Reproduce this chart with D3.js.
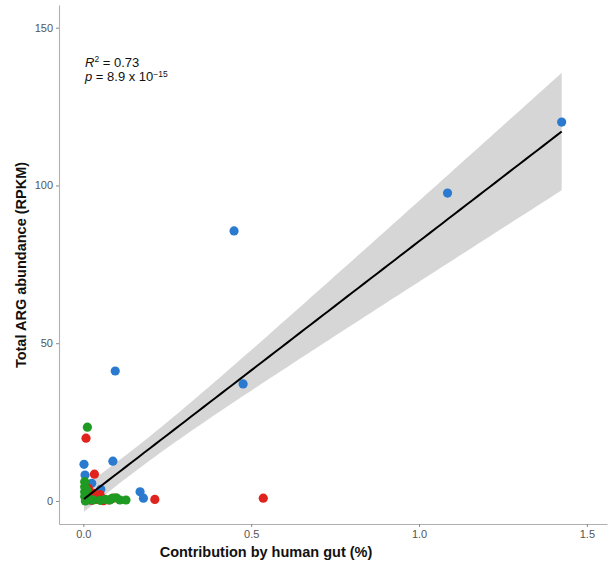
<!DOCTYPE html>
<html>
<head>
<meta charset="utf-8">
<script src="https://cdn.jsdelivr.net/npm/d3@7"></script>
<style>
  html, body { margin: 0; padding: 0; background: #fff; }
  svg { display: block; font-family: "Liberation Sans", Arial, sans-serif; }
</style>
</head>
<body>
<svg id="chart" width="609" height="564"></svg>
<script>
// Sample groups: x = contribution by human gut (%), y = total ARG abundance (RPKM)
const blueX = [1.425, 1.085, 0.449, 0.476, 0.095, 0.088, 0.002, 0.005, 0.025, 0.052, 0.018, 0.169, 0.179, 0.010, 0.030, 0.015, 0.040];
const blueY = [120.1, 97.6, 85.6, 37.1, 41.2, 12.6, 11.6, 8.2, 5.6, 3.7, 0.3, 2.9, 0.9, 1.0, 2.0, 0.8, 1.5];
const redX  = [0.008, 0.033, 0.030, 0.040, 0.060, 0.089, 0.213, 0.536, 0.020, 0.075, 0.015, 0.045, 0.025, 0.050, 0.010];
const redY  = [19.9, 8.5, 2.4, 0.5, 0.1, 0.9, 0.5, 0.9, 1.5, 0.3, 4.0, 1.0, 0.2, 2.0, 0.5];
const greenX = [0.012, 0.004, 0.004, 0.004, 0.004, 0.006, 0.079, 0.109, 0.127, 0.098, 0.010, 0.020, 0.085, 0.030, 0.050, 0.008, 0.065];
const greenY = [23.4, 6.1, 4.5, 2.9, 1.4, 0.0, 0.3, 0.3, 0.3, 1.0, 3.5, 0.5, 0.8, 0.3, 0.2, 2.0, 0.5];

const groupNames  = ["blue", "red", "green"];
const groupColors = ["#2a7ad0", "#e0231c", "#1f9a22"];

const xTicks = [0, 0.5, 1.0, 1.5];
const yTicks = [0, 50, 100, 150];
const statR2 = "0.73";
const statP = { mant: "8.9", exp: "\u221215" };

const xTitle = "Contribution by human gut (%)";
const yTitle = "Total ARG abundance (RPKM)";

const svg = d3.select("#chart");

const x = d3.scaleLinear().domain([-0.0725, 1.56]).range([59, 607]);
const y = d3.scaleLinear().domain([-7.3, 157.2]).range([524, 5]);

const groups = [[blueX, blueY], [redX, redY], [greenX, greenY]].map((g, i) => ({
  name: groupNames[i], color: groupColors[i],
  pts: g[0].map((v, j) => ({ x: v, y: g[1][j] }))
}));
const all = groups.flatMap(g => g.pts);

// ordinary least squares fit with 95% confidence band
const n = all.length;
const mx = d3.mean(all, d => d.x), my = d3.mean(all, d => d.y);
const sxx = d3.sum(all, d => (d.x - mx) ** 2);
const sxy = d3.sum(all, d => (d.x - mx) * (d.y - my));
const slope = sxy / sxx, icpt = my - slope * mx;
const sse = d3.sum(all, d => (d.y - icpt - slope * d.x) ** 2);
const s = Math.sqrt(sse / (n - 2));
const df = n - 2, z = 1.959964;
const tq = z + (z ** 3 + z) / (4 * df) + (5 * z ** 5 + 16 * z ** 3 + 3 * z) / (96 * df * df);
const [xmin, xmax] = d3.extent(all, d => d.x);
const fit = d3.range(0, 81).map(i => {
  const xv = xmin + (xmax - xmin) * i / 80;
  const yv = icpt + slope * xv;
  const se = s * Math.sqrt(1 / n + (xv - mx) ** 2 / sxx);
  return { x: xv, y: yv, lo: yv - tq * se, hi: yv + tq * se };
});

svg.append("path").datum(fit)
  .attr("fill", "#d6d6d6")
  .attr("d", d3.area().x(d => x(d.x)).y0(d => y(d.lo)).y1(d => y(d.hi)));

// axes
const axisColor = "#b0b0b0";
const gx = svg.append("g").attr("transform", "translate(0,524)")
  .call(d3.axisBottom(x).tickValues(xTicks).tickFormat(d3.format(".1f")).tickSizeInner(3).tickSizeOuter(0).tickPadding(3));
const gy = svg.append("g").attr("transform", "translate(59,0)")
  .call(d3.axisLeft(y).tickValues(yTicks).tickFormat(d3.format("d")).tickSizeInner(3).tickSizeOuter(0).tickPadding(3));
[gx, gy].forEach(g => {
  g.select(".domain").attr("stroke", axisColor).attr("stroke-width", 1.1);
  g.selectAll(".tick line").attr("stroke", "#888");
  g.selectAll(".tick text").attr("fill", "#555").attr("font-size", 11)
    .attr("font-family", "'Liberation Sans', Arial, sans-serif");
});

// points
groups.forEach(g => {
  svg.append("g").selectAll("circle").data(g.pts).join("circle")
    .attr("cx", d => x(d.x)).attr("cy", d => y(d.y)).attr("r", 4.6)
    .attr("fill", g.color);
});

// fitted line
svg.append("path").datum(fit)
  .attr("fill", "none").attr("stroke", "#000").attr("stroke-width", 2)
  .attr("d", d3.line().x(d => x(d.x)).y(d => y(d.y)));

// fit statistics
const ann = svg.append("g").attr("font-size", 13).attr("fill", "#111");
const t1 = ann.append("text").attr("x", 85).attr("y", 67);
t1.append("tspan").attr("font-style", "italic").text("R");
t1.append("tspan").attr("dy", -5).attr("font-size", 8.5).text("2");
t1.append("tspan").attr("dy", 5).text(" = " + statR2);
const t2 = ann.append("text").attr("x", 85).attr("y", 81);
t2.append("tspan").attr("font-style", "italic").text("p");
t2.append("tspan").text(" = " + statP.mant + " x 10");
t2.append("tspan").attr("dy", -4.5).attr("font-size", 8.5).text(statP.exp);

// axis titles
svg.append("text").attr("x", 266).attr("y", 557).attr("text-anchor", "middle")
  .attr("font-weight", "bold").attr("font-size", 14.5).attr("fill", "#111").text(xTitle);
svg.append("text").attr("transform", "translate(26,265) rotate(-90)").attr("text-anchor", "middle")
  .attr("font-weight", "bold").attr("font-size", 14.5).attr("fill", "#111").text(yTitle);
</script>
</body>
</html>
